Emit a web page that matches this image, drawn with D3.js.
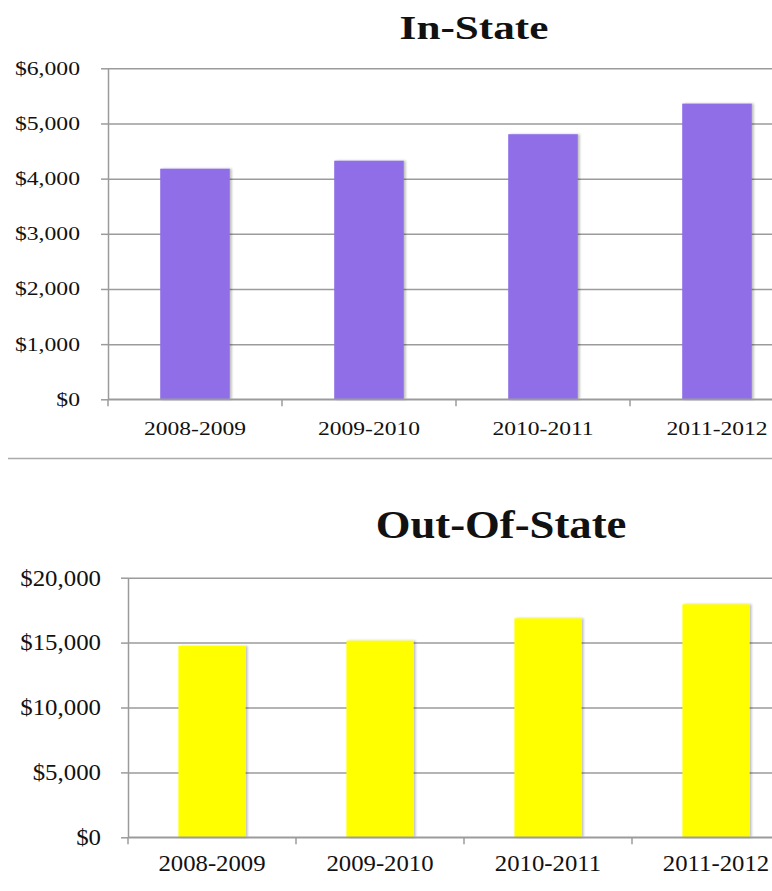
<!DOCTYPE html>
<html>
<head>
<meta charset="utf-8">
<script src="https://cdn.jsdelivr.net/npm/d3@7"></script>
<style>
  html, body { margin: 0; padding: 0; background: #fff; }
  svg { display: block; }
  text { font-family: "Liberation Serif", "Times New Roman", serif; fill: #111; }
</style>
</head>
<body>
<svg id="chart" width="772" height="891"></svg>
<script>
const categories = ["2008-2009", "2009-2010", "2010-2011", "2011-2012"];
const inStateValues = [4180, 4325, 4805, 5360];
const outStateValues = [14740, 15150, 16870, 17950];
const inStateTicks = [0, 1000, 2000, 3000, 4000, 5000, 6000];
const outStateTicks = [0, 5000, 10000, 15000, 20000];
const titles = ["In-State", "Out-Of-State"];

const W = 772;
const svg = d3.select("#chart");

const defs = svg.append("defs");
const f = defs.append("filter").attr("id", "shadow").attr("x", "-10%").attr("y", "-10%").attr("width", "130%").attr("height", "130%");
f.append("feDropShadow").attr("dx", 2).attr("dy", 0).attr("stdDeviation", 1.2).attr("flood-color", "#000").attr("flood-opacity", 0.25);

const fmt = v => "$" + d3.format(",")(v);

// widen glyphs horizontally (the source chart is stretched sideways)
function stretch(sel, k) {
  sel.each(function() {
    const L = this.getComputedTextLength();
    d3.select(this).attr("textLength", L * k).attr("lengthAdjust", "spacingAndGlyphs");
  });
}

function drawChart(cfg) {
  const g = svg.append("g");
  const x = d3.scaleBand().domain(categories)
    .range([cfg.left, cfg.left + 4 * cfg.step])
    .paddingInner(0.6).paddingOuter(0.3);
  const y = d3.scaleLinear().domain([0, cfg.max]).range([cfg.bottom, cfg.top]);

  // gridlines
  const grid = g.append("g").attr("transform", `translate(${cfg.left},0)`)
    .call(d3.axisRight(y).tickValues(cfg.ticks).tickSize(W - cfg.left).tickFormat(""));
  grid.select(".domain").remove();
  grid.selectAll("line").attr("stroke", "#9b9b9b").attr("stroke-width", 1.5);

  // bars
  g.selectAll("rect.bar").data(cfg.values).join("rect")
    .attr("class", "bar")
    .attr("x", (d, i) => x(categories[i]))
    .attr("width", x.bandwidth())
    .attr("y", d => y(d))
    .attr("height", d => y(0) - y(d))
    .attr("fill", cfg.color)
    .attr("filter", "url(#shadow)");

  // y axis
  const ya = g.append("g").attr("transform", `translate(${cfg.left},0)`)
    .call(d3.axisLeft(y).tickValues(cfg.ticks).tickSize(7).tickSizeOuter(0).tickPadding(cfg.yPad).tickFormat(fmt));
  ya.select(".domain").attr("stroke", "#9b9b9b").attr("stroke-width", 1.5);
  ya.selectAll("line").attr("stroke", "#9b9b9b").attr("stroke-width", 1.5);
  ya.selectAll("text").attr("font-size", cfg.yFont).attr("font-family", "Liberation Serif").attr("fill", "#111")
    .call(stretch, cfg.yStretch);

  // x axis
  const xa = g.append("g").attr("transform", `translate(0,${cfg.bottom})`)
    .call(d3.axisBottom(x).tickSize(0).tickPadding(cfg.xPad));
  xa.select(".domain").remove();
  xa.selectAll("text").attr("font-size", cfg.xFont).attr("font-family", "Liberation Serif").attr("fill", "#111")
    .call(stretch, cfg.xStretch);
  g.append("line").attr("x1", cfg.left).attr("x2", W).attr("y1", cfg.bottom).attr("y2", cfg.bottom)
    .attr("stroke", "#9b9b9b").attr("stroke-width", 1.5);
  g.selectAll("line.xtick").data(categories).join("line")
    .attr("class", "xtick")
    .attr("x1", d => x(d) - (x.step() - x.bandwidth()) / 2)
    .attr("x2", d => x(d) - (x.step() - x.bandwidth()) / 2)
    .attr("y1", cfg.bottom).attr("y2", cfg.bottom + 7)
    .attr("stroke", "#9b9b9b").attr("stroke-width", 1.5);

  // title
  g.append("text").attr("x", cfg.titleX).attr("y", cfg.titleY)
    .attr("text-anchor", "middle").attr("font-weight", "bold")
    .attr("font-size", cfg.titleFont).text(cfg.title)
    .call(stretch, cfg.titleStretch);
}

drawChart({
  values: inStateValues, ticks: inStateTicks, max: 6000, color: "#8f6ee8",
  left: 108, step: 174, top: 68.3, bottom: 399.3,
  yFont: 18.5, xFont: 19, yPad: 21, xPad: 22, yStretch: 1.28, xStretch: 1.24,
  title: titles[0], titleX: 474, titleY: 39, titleFont: 34, titleStretch: 1.27
});

// separator
svg.append("line").attr("x1", 8).attr("x2", W).attr("y1", 458.5).attr("y2", 458.5)
  .attr("stroke", "#aaaaaa").attr("stroke-width", 1.5);

drawChart({
  values: outStateValues, ticks: outStateTicks, max: 20000, color: "#ffff00",
  left: 128, step: 168, top: 577.7, bottom: 837.3,
  yFont: 23, xFont: 22.5, yPad: 20, xPad: 18, yStretch: 1.08, xStretch: 1.1,
  title: titles[1], titleX: 501, titleY: 538, titleFont: 41, titleStretch: 1.09
});
</script>
</body>
</html>
